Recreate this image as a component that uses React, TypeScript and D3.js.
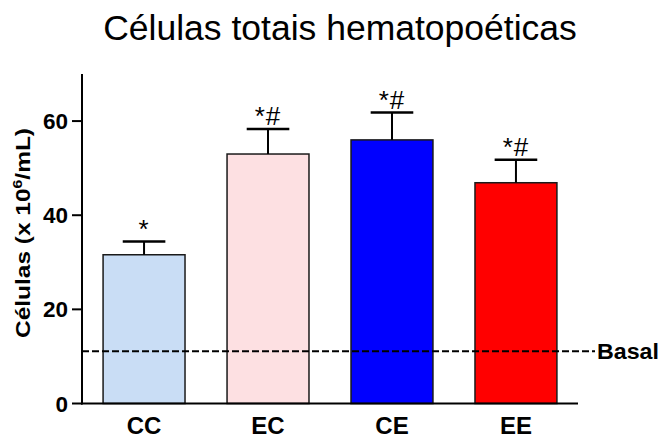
import React from "react";
import * as d3 from "d3";

const categories = ["CC", "EC", "CE", "EE"];
const means = [31.6, 53.0, 56.0, 46.9];
const sems = [2.8, 5.3, 5.8, 4.9];
const marks = ["*", "*#", "*#", "*#"];
const colors = ["#c9ddf5", "#fde0e2", "#0000ff", "#ff0000"];
const yTicks = [0, 20, 40, 60];
const basal = 11.1;

const font = "'Liberation Sans', Arial, sans-serif";

const App = () => {
  const width = 661;
  const height = 439;

  const x = d3
    .scaleBand()
    .domain(categories)
    .range([82, 578])
    .paddingInner(0.339)
    .paddingOuter(0.17);

  const y = d3.scaleLinear().domain([0, 70]).range([403.5, 74]);

  const capW = x.bandwidth() * 0.52;

  return (
    <svg
      width={width}
      height={height}
      style={{ position: "absolute", left: 0, top: 0, background: "#fff" }}
      fontFamily={font}
    >
      <text x={340} y={40} textAnchor="middle" fontSize={35.5} fill="#000">
        Células totais hematopoéticas
      </text>

      {/* bars */}
      {categories.map((c, i) => (
        <rect
          key={c}
          x={x(c)}
          y={y(means[i])}
          width={x.bandwidth()}
          height={y(0) - y(means[i])}
          fill={colors[i]}
          stroke="#1a1a1a"
          strokeWidth={1.5}
        />
      ))}

      {/* error bars + marks */}
      {categories.map((c, i) => {
        const cx = x(c) + x.bandwidth() / 2;
        const top = y(means[i] + sems[i]);
        return (
          <g key={c + "err"}>
            <line x1={cx} x2={cx} y1={y(means[i])} y2={top} stroke="#000" strokeWidth={2} />
            <line x1={cx - capW / 2} x2={cx + capW / 2} y1={top} y2={top} stroke="#000" strokeWidth={2.5} />
            <text
              x={cx}
              y={top - 4}
              textAnchor="middle"
              fontSize={26}
              letterSpacing={1}
              fill="#000"
            >
              {marks[i]}
            </text>
          </g>
        );
      })}

      {/* basal line */}
      <line
        x1={82}
        x2={595}
        y1={y(basal)}
        y2={y(basal)}
        stroke="#000"
        strokeWidth={2}
        strokeDasharray="7,3"
      />
      <text
        x={597}
        y={y(basal) + 8}
        fontSize={22}
        fontWeight="bold"
        fill="#000"
        textLength={62}
        lengthAdjust="spacingAndGlyphs"
      >
        Basal
      </text>

      {/* y axis */}
      <line x1={82} x2={82} y1={y(70)} y2={y(0) + 1} stroke="#000" strokeWidth={2} />
      {yTicks.map((t) => (
        <g key={t}>
          <line x1={72} x2={82} y1={y(t)} y2={y(t)} stroke="#000" strokeWidth={2} />
          <text
            x={68}
            y={y(t)}
            dy="0.36em"
            textAnchor="end"
            fontSize={22.5}
            fontWeight="bold"
            fill="#000"
          >
            {t}
          </text>
        </g>
      ))}

      {/* x axis */}
      <line x1={81} x2={578} y1={y(0)} y2={y(0)} stroke="#000" strokeWidth={2} />
      {categories.map((c) => (
        <text
          key={c + "lbl"}
          x={x(c) + x.bandwidth() / 2}
          y={434}
          textAnchor="middle"
          fontSize={24}
          fontWeight="bold"
          fill="#000"
        >
          {c}
        </text>
      ))}

      <text
        transform="translate(30,233) rotate(-90)"
        textAnchor="middle"
        fontSize={20}
        fontWeight="bold"
        fill="#000"
        textLength={210}
        lengthAdjust="spacingAndGlyphs"
      >
        Células (x 10
        <tspan fontSize={13} dy={-8}>6</tspan>
        <tspan dy={8}>/mL)</tspan>
      </text>
    </svg>
  );
};

export default App;
